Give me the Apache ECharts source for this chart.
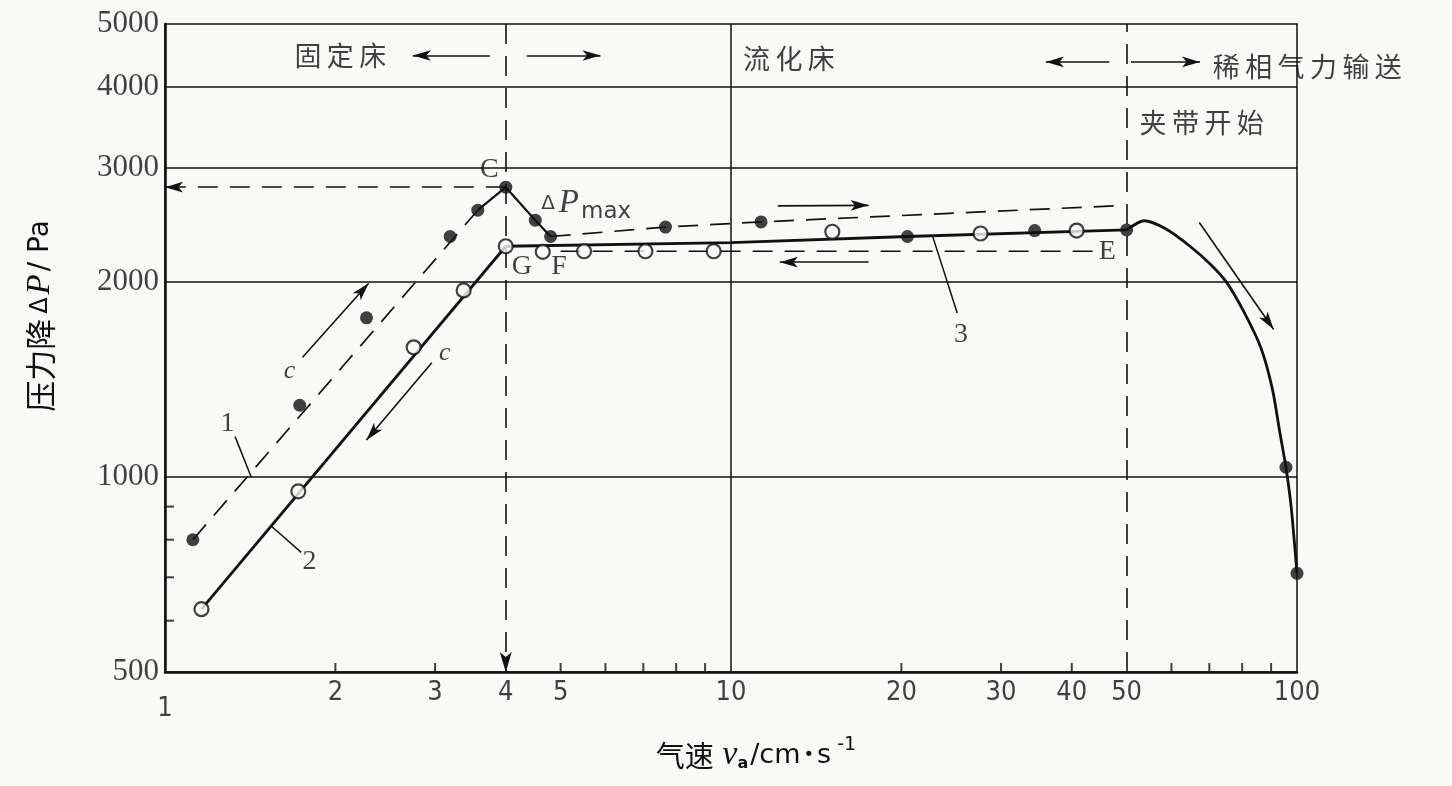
<!DOCTYPE html>
<html><head><meta charset="utf-8">
<script src="https://cdn.jsdelivr.net/npm/echarts@6/dist/echarts.min.js"></script>
<style>html,body{margin:0;padding:0;background:#f9f9f8;}#chart{width:1452px;height:786px;}</style>
</head><body><div id="chart"></div>
<script>
// ---------------- data ----------------
const xTickLabels = [1, 2, 3, 4, 5, 10, 20, 30, 40, 50, 100];
const xTickMarks = [2, 3, 5, 6, 7, 8, 9, 20, 30, 40, 60, 70, 80, 90];
const yTickLabels = [500, 1000, 2000, 3000, 4000, 5000];
const yTickMarks = [600, 700, 800, 900];
const yGridValues = [1000, 2000, 3000, 4000];
const xGridSolid = [10];
const xGridDashed = [50];
const xFixedLimit = 4;          // 固定床 / 流化床 boundary
const deltaPmax = 2800;         // point C

// curve 1: increasing gas velocity (filled dots)
const curve1Rise  = [[1.12, 800], [3.57, 2580]];
const curve1Peak  = [[3.57, 2580], [4, 2800], [4.51, 2490], [4.8, 2350]];
const curve1Fluid = [[4.8, 2350], [7.66, 2430], [11.3, 2475], [47.6, 2620]];
const curve1Points = [[1.12, 800], [1.73, 1290], [2.27, 1760], [3.19, 2350], [3.57, 2580],
                      [4, 2800], [4.51, 2490], [4.8, 2350], [7.66, 2430], [11.3, 2475]];
// curve 2: decreasing gas velocity (open circles)
const curve2Fixed  = [[1.16, 625], [4, 2270]];
const curve2Return = [[5.0, 2230], [44.5, 2230]];
const curve2Points = [[1.16, 625], [1.72, 950], [2.75, 1585], [3.37, 1940], [4, 2270], [4.65, 2225],
                      [5.5, 2230], [7.06, 2230], [9.32, 2230], [15.1, 2390], [27.6, 2375], [40.8, 2400]];
// curve 3: fluidized plateau and transport region
const curve3Plateau = [[4, 2270], [10, 2300], [20.5, 2350], [50, 2405]];
const curve3Drop    = [[50, 2405], [53.7, 2485], [58.6, 2415], [64.7, 2270], [70.3, 2130], [75, 2000],
                       [80.8, 1790], [86.4, 1580], [90.5, 1365], [93.2, 1175], [95.6, 1035], [97.7, 895], [100, 710]];
const curve3Points  = [[20.5, 2350], [34.4, 2400], [50, 2405], [95.6, 1035], [100, 710]];

// ---------------- styling ----------------
const INK = '#111111';
const BG = '#f9f9f8';
const CJK = "'Noto Sans CJK SC', sans-serif";
const SERIF = "'Liberation Serif', 'DejaVu Serif', serif";
const NARROW = "'Liberation Sans Narrow', 'DejaVu Sans Condensed', 'Liberation Sans', sans-serif";
const SANS = "'DejaVu Sans', 'Liberation Sans', sans-serif";
const DASH = [20, 12];

function arrowLine(from, to, dashed, curv) {
  const s = {coord: from, symbol: 'none', lineStyle: {type: dashed ? DASH : 'solid', width: 1.6, color: INK, curveness: curv || 0}};
  return [s, {coord: to, symbol: 'arrow', symbolSize: [8, 18]}];
}
function leader(from, to) {
  return [{coord: from, symbol: 'none', lineStyle: {type: 'solid', width: 1.5, color: INK}}, {coord: to, symbol: 'none'}];
}
function note(text, pos, placement, style) {
  return {value: pos, label: Object.assign({show: true, formatter: text, position: placement || 'inside', distance: 0, color: INK}, style || {})};
}
const cjkStyle = {fontFamily: CJK, fontSize: 27};
const letterStyle = {fontFamily: SERIF, fontSize: 28};
const th = '\u2009';

const annotations = [
  note('固' + th + '定' + th + '床', [2.46, 4470], 'left', cjkStyle),
  note('流' + th + '化' + th + '床', [10.5, 4420], 'right', cjkStyle),
  note(['稀', '相', '气', '力', '输', '送'].join(th), [71, 4300], 'right', cjkStyle),
  note(['夹', '带', '开', '始'].join(th), [52.7, 3520], 'right', cjkStyle),
  note('C', [3.74, 2980], 'inside', letterStyle),
  note('{d|Δ}{p|P}{s|max}', [4.62, 2640], 'right', {rich: {
    d: {fontFamily: SANS, fontSize: 20, color: INK},
    p: {fontFamily: SERIF, fontStyle: 'italic', fontSize: 33, color: INK, padding: [0, 2, 0, 4]},
    s: {fontFamily: SANS, fontSize: 23, color: INK, padding: [16, 0, 0, 0]}}}),
  note('G', [4.27, 2110], 'inside', letterStyle),
  note('F', [4.97, 2110], 'inside', letterStyle),
  note('E', [46.2, 2225], 'inside', letterStyle),
  note('1', [1.29, 1210], 'inside', letterStyle),
  note('2', [1.80, 740], 'inside', letterStyle),
  note('3', [25.5, 1660], 'inside', letterStyle),
  note('c', [1.66, 1455], 'inside', {fontFamily: SERIF, fontStyle: 'italic', fontSize: 26}),
  note('c', [3.12, 1550], 'inside', {fontFamily: SERIF, fontStyle: 'italic', fontSize: 26})
];

const chart = echarts.init(document.getElementById('chart'), null, {renderer: 'canvas'});
const hidden = {show: false};

const option = {
  animation: false,
  backgroundColor: BG,
  grid: {left: 165, right: 155, top: 24, bottom: 114, show: true, borderColor: INK, borderWidth: 1.5, backgroundColor: 'transparent'},
  xAxis: {
    type: 'log', logBase: 10, min: 1, max: 100,
    axisLine: {show: true, lineStyle: {color: INK, width: 2.5}},
    axisTick: hidden, axisLabel: hidden, splitLine: hidden, minorTick: hidden, minorSplitLine: hidden,
    name: '{cj|气速}{v| v}{a|a}{c|/cm}{dot|•}{c|s}{e|-1}',
    nameLocation: 'middle', nameGap: 64,
    nameTextStyle: {padding: [0, 0, 0, 50], rich: {
      cj: {fontFamily: CJK, fontSize: 29, color: INK},
      v: {fontFamily: SERIF, fontStyle: 'italic', fontSize: 34, color: INK},
      a: {fontFamily: SANS, fontWeight: 'bold', fontSize: 16, color: INK, padding: [16, 2, 0, 0]},
      c: {fontFamily: SANS, fontSize: 27, color: INK},
      dot: {fontFamily: SANS, fontSize: 18, color: INK, padding: [0, 3, 0, 3]},
      e: {fontFamily: SANS, fontSize: 19, color: INK, padding: [0, 0, 20, 6]}
    }}
  },
  yAxis: {
    type: 'log', logBase: 10, min: 500, max: 5000,
    axisLine: {show: true, lineStyle: {color: INK, width: 2.5}},
    axisTick: hidden, axisLabel: hidden, splitLine: hidden, minorTick: hidden, minorSplitLine: hidden,
    name: '{cj|压力降}{d|Δ}{p|P}{c|/ Pa}',
    nameLocation: 'middle', nameRotate: 90, nameGap: 108,
    nameTextStyle: {padding: [0, 0, 0, 64], rich: {
      cj: {fontFamily: CJK, fontSize: 31, color: INK, padding: [0, 5, 0, 0]},
      d: {fontFamily: SANS, fontSize: 24, color: INK},
      p: {fontFamily: SERIF, fontStyle: 'italic', fontSize: 33, color: INK, padding: [0, 3, 0, 3]},
      c: {fontFamily: SANS, fontSize: 28, color: INK}
    }}
  },
  series: [
    { // axis furniture: inside tick marks + grid lines
      type: 'scatter', name: 'xticks', silent: true, clip: false, z: 1,
      data: xTickMarks.map(v => [v, yTickLabels[0]]),
      symbol: 'rect', symbolSize: [2, 9], symbolOffset: [0, -4.5],
      itemStyle: {color: INK},
      markLine: {
        silent: true, symbol: 'none', animation: false, label: {show: false},
        lineStyle: {color: INK, width: 1.5, type: 'solid'},
        emphasis: {disabled: true},
        data: [
          ...yGridValues.map(v => ({yAxis: v})),
          ...xGridSolid.map(v => ({xAxis: v})),
          ...xGridDashed.map(v => ({xAxis: v, lineStyle: {type: DASH, width: 1.6}})),
          [{coord: [xFixedLimit, yTickLabels[yTickLabels.length - 1]], symbol: 'none', lineStyle: {type: DASH, width: 1.6}},
           {coord: [xFixedLimit, yTickLabels[0]], symbol: 'arrow', symbolSize: [9, 20]}]
        ]
      }
    },
    {
      type: 'scatter', name: 'yticks', silent: true, clip: false, z: 1,
      data: yTickMarks.map(v => [xTickLabels[0], v]),
      symbol: 'rect', symbolSize: [9, 2], symbolOffset: [4.5, 0],
      itemStyle: {color: INK}
    },
    { // x tick labels
      type: 'scatter', name: 'xlabels', silent: true, clip: false, z: 5,
      data: xTickLabels.map(v => ({value: [v, yTickLabels[0]], label: v === 1 ? {offset: [0, 16]} : undefined})),
      symbolSize: 0.01, itemStyle: {color: 'rgba(0,0,0,0)'},
      label: {show: true, position: 'bottom', distance: 7, color: INK, fontFamily: NARROW, fontSize: 27,
              formatter: p => String(p.value[0])}
    },
    { // y tick labels
      type: 'scatter', name: 'ylabels', silent: true, clip: false, z: 5,
      data: yTickLabels.map(v => [xTickLabels[0], v]),
      symbolSize: 0.01, itemStyle: {color: 'rgba(0,0,0,0)'},
      label: {show: true, position: 'left', distance: 6, color: INK, fontFamily: SERIF, fontSize: 31,
              formatter: p => String(p.value[1])}
    },
    // ---- curves ----
    {type: 'line', name: 'curve1Rise', data: curve1Rise, showSymbol: false, symbol: 'none', z: 3,
     lineStyle: {color: INK, width: 1.7, type: DASH}},
    {type: 'line', name: 'curve1Peak', data: curve1Peak, showSymbol: false, symbol: 'none', z: 3,
     lineStyle: {color: INK, width: 2.2}},
    {type: 'line', name: 'curve1Fluid', data: curve1Fluid, showSymbol: false, symbol: 'none', z: 3,
     lineStyle: {color: INK, width: 1.7, type: DASH}},
    {type: 'line', name: 'curve2Fixed', data: curve2Fixed, showSymbol: false, symbol: 'none', z: 3,
     lineStyle: {color: INK, width: 2.8}},
    {type: 'line', name: 'curve2Return', data: curve2Return, showSymbol: false, symbol: 'none', z: 3,
     lineStyle: {color: INK, width: 1.7, type: DASH}},
    {type: 'line', name: 'curve3Plateau', data: curve3Plateau, showSymbol: false, symbol: 'none', z: 3,
     lineStyle: {color: INK, width: 2.8}},
    {type: 'line', name: 'curve3Drop', data: curve3Drop, showSymbol: false, symbol: 'none', z: 3,
     smooth: 0.25, lineStyle: {color: INK, width: 2.8, join: 'round'}},
    // ---- markers ----
    {type: 'scatter', name: 'curve1Points', data: curve1Points, symbol: 'circle', symbolSize: 13, z: 6,
     itemStyle: {color: INK}},
    {type: 'scatter', name: 'curve3Points', data: curve3Points, symbol: 'circle', symbolSize: 13, z: 6,
     itemStyle: {color: INK}},
    {type: 'scatter', name: 'curve2Points', data: curve2Points, symbol: 'circle', symbolSize: 14, z: 7,
     itemStyle: {color: BG, borderColor: INK, borderWidth: 2.2}},
    // ---- annotations: arrows, leaders, texts ----
    {
      type: 'scatter', name: 'annotations', silent: true, clip: false, z: 8,
      data: annotations, symbolSize: 0.01, itemStyle: {color: 'rgba(0,0,0,0)'},
      markLine: {
        silent: true, symbol: 'none', animation: false, label: {show: false},
        lineStyle: {color: INK, width: 1.6},
        data: [
          arrowLine([xFixedLimit, deltaPmax], [xTickLabels[0], deltaPmax], true),
          arrowLine([3.75, 4470], [2.74, 4470]),
          arrowLine([4.36, 4470], [5.88, 4470]),
          arrowLine([46.6, 4370], [36.0, 4370]),
          arrowLine([50.9, 4370], [67.4, 4370]),
          arrowLine([1.75, 1530], [2.29, 1990]),
          arrowLine([2.96, 1500], [2.27, 1140]),
          arrowLine([12.1, 2620], [17.5, 2625]),
          arrowLine([17.5, 2145], [12.2, 2145]),
          arrowLine([67.2, 2470], [90.9, 1690], false, -0.12),
          leader([1.33, 1154], [1.42, 1000]),
          leader([1.54, 840], [1.74, 765]),
          leader([22.7, 2355], [25.1, 1790])
        ]
      }
    }
  ]
};
chart.setOption(option);
</script>
</body></html>
